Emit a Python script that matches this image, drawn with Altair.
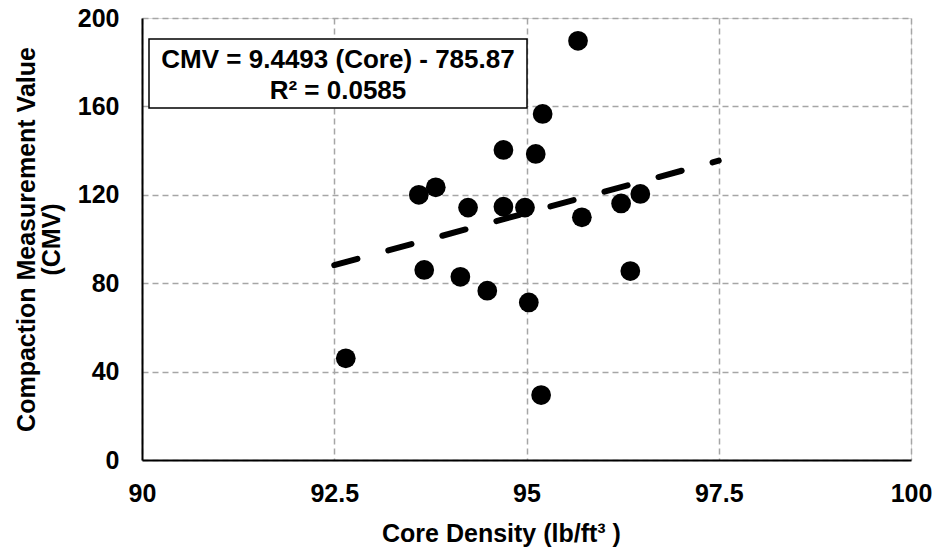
import altair as alt
import pandas as pd

# Data
core_density = [92.65, 93.60, 93.82, 94.24, 94.25, 94.70, 94.70, 94.98, 95.12, 95.21,
                95.67, 95.72, 96.23, 96.48, 93.67, 94.14, 94.49, 95.03, 96.35, 95.19]
cmv_values = [46.0, 120.0, 123.4, 114.2, 164.0, 114.6, 140.3, 114.2, 138.5, 156.6,
              189.7, 109.8, 116.1, 120.4, 86.0, 82.9, 76.6, 71.3, 85.5, 29.4]

# Trend line from the printed equation
slope = 9.4493
intercept = -785.87
trend_x = [92.5, 97.5]

equation_lines = ["CMV = 9.4493 (Core) - 785.87", "R² = 0.0585"]

x_ticks = [90, 92.5, 95, 97.5, 100]
y_ticks = [0, 40, 80, 120, 160, 200]

FONT = "Liberation Sans"

pts = pd.DataFrame({"core": core_density, "cmv": cmv_values})
trend = pd.DataFrame({"core": trend_x, "cmv": [slope * v + intercept for v in trend_x]})

xscale = alt.Scale(domain=[90, 100], nice=False, zero=False)
yscale = alt.Scale(domain=[0, 200], nice=False)

xaxis = alt.Axis(values=x_ticks, labelExpr="'' + datum.value", title="Core Density (lb/ft³ )",
                 labelFont=FONT, labelFontSize=25, labelFontWeight="bold", labelColor="black",
                 labelPadding=21, ticks=False, domainColor="black", domainWidth=2,
                 grid=True, gridColor="#a6a6a6", gridDash=[6, 4], gridWidth=1.5,
                 titleFont=FONT, titleFontSize=25, titleFontWeight="bold", titleColor="black",
                 titleBaseline="alphabetic", titleY=81, titleX=359, titleAlign="center",
                 labelFlush=False, labelOverlap=False)
yaxis = alt.Axis(values=y_ticks, title=["Compaction Measurement Value", "(CMV)"],
                 labelFont=FONT, labelFontSize=25, labelFontWeight="bold", labelColor="black",
                 labelPadding=23, ticks=False, domainColor="black", domainWidth=2,
                 grid=True, gridColor="#a6a6a6", gridDash=[6, 4], gridWidth=1.5,
                 titleFont=FONT, titleFontSize=25, titleFontWeight="bold", titleColor="black",
                 titleAngle=270, titleBaseline="top", titleX=-128, titleY=221,
                 titleAlign="center", titleLineHeight=25, labelFlush=False, labelOverlap=False)

points = alt.Chart(pts).mark_circle(size=390, color="black", opacity=1).encode(
    x=alt.X("core:Q", scale=xscale, axis=xaxis),
    y=alt.Y("cmv:Q", scale=yscale, axis=yaxis),
)

line = alt.Chart(trend).mark_line(color="black", strokeWidth=6, strokeDash=[24, 32],
                                  strokeCap="round").encode(
    x=alt.X("core:Q", scale=xscale),
    y=alt.Y("cmv:Q", scale=yscale),
)

box = alt.Chart(pd.DataFrame({"k": [0]})).mark_rect(
    fill="white", stroke="black", strokeWidth=1.5).encode(
    x=alt.value(7), x2=alt.value(385), y=alt.value(21), y2=alt.value(90))

line1 = alt.Chart(pd.DataFrame({"text": [equation_lines[0]]})).mark_text(
    font=FONT, fontSize=26, fontWeight="bold", color="black",
    align="center", baseline="alphabetic").encode(
    x=alt.value(196), y=alt.value(50), text="text:N")

line2 = alt.Chart(pd.DataFrame({"text": [equation_lines[1]]})).mark_text(
    font=FONT, fontSize=26, fontWeight="bold", color="black",
    align="center", baseline="alphabetic").encode(
    x=alt.value(196), y=alt.value(81), text="text:N")

chart = alt.layer(points, line, box, line1, line2).properties(
    width=769, height=442,
    autosize=alt.AutoSizeParams(type="none"),
    padding={"left": 142, "top": 18, "right": 21, "bottom": 90},
).configure_view(stroke="black", strokeWidth=2).configure(background="white")

chart.save("out.html", embed_options={"renderer": "svg", "actions": False})
